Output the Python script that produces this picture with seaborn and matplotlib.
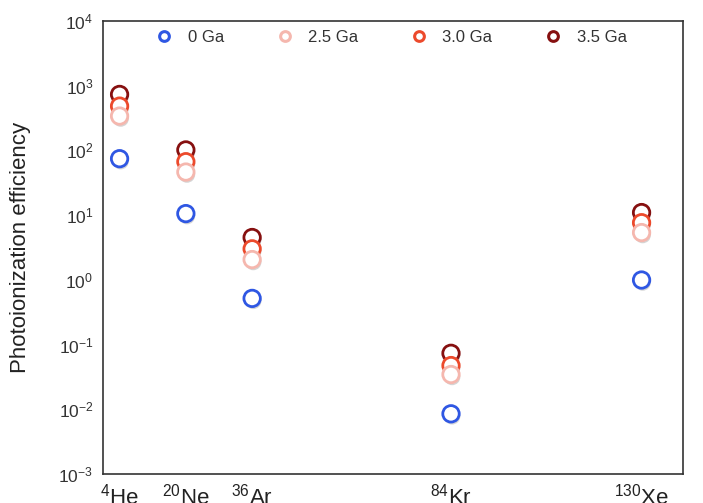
import numpy as np
import pandas as pd
import matplotlib
matplotlib.use("Agg")
import matplotlib.pyplot as plt
import matplotlib.patheffects as pe
from matplotlib.lines import Line2D
import seaborn as sns

# Isotopes (mass number sets the x position)
isotopes = ["He", "Ne", "Ar", "Kr", "Xe"]
mass_numbers = [4, 20, 36, 84, 130]

# Photoionization efficiency for each epoch
eff_0ga = [74, 10.5, 0.515, 0.0085, 0.99]
eff_2_5ga = [337, 46, 2.05, 0.0344, 5.35]
eff_3_0ga = [480, 66.5, 3.0, 0.0473, 7.6]
eff_3_5ga = [727, 101, 4.49, 0.0731, 10.9]

epochs = ["0 Ga", "2.5 Ga", "3.0 Ga", "3.5 Ga"]
colors = ["#2f57e3", "#f5b7ae", "#ec4a2c", "#861010"]

sns.set_theme(style="white")
plt.rcParams["font.family"] = ["Liberation Sans", "DejaVu Sans"]
plt.rcParams["mathtext.fontset"] = "custom"
plt.rcParams["mathtext.rm"] = "Liberation Sans"
plt.rcParams["mathtext.it"] = "Liberation Sans:italic"
plt.rcParams["axes.unicode_minus"] = False

# Long-form table; later epochs first so the lighter circles sit on top
rows = []
for label, vals in [("3.5 Ga", eff_3_5ga), ("3.0 Ga", eff_3_0ga),
                    ("2.5 Ga", eff_2_5ga), ("0 Ga", eff_0ga)]:
    for iso, m, v in zip(isotopes, mass_numbers, vals):
        rows.append({"isotope": iso, "mass": m, "efficiency": v, "epoch": label})
df = pd.DataFrame(rows)

palette = dict(zip(epochs, colors))

fig = plt.figure(figsize=(7.03, 5.03), dpi=100)
ax = fig.add_axes([103 / 703, 1 - 474 / 503, 580 / 703, (474 - 20.7) / 503])

sns.scatterplot(data=df, x="mass", y="efficiency", hue="epoch",
                hue_order=epochs, palette=palette, s=140, linewidth=0,
                legend=False, ax=ax)

coll = ax.collections[0]
face = coll.get_facecolors()
coll.set_edgecolors(face)
coll.set_facecolors("white")
coll.set_linewidths(2.0)
coll.set_path_effects([
    pe.SimplePatchShadow(offset=(0.8, -1.8), shadow_rgbFace="#888888", alpha=0.35),
    pe.Normal(),
])

ax.set_yscale("log")
ax.set_ylim(1e-3, 1e4)
ax.set_xlim(0, 140)
ax.set_yticks([10.0 ** k for k in range(-3, 5)])
ax.minorticks_off()
ax.set_xticks(mass_numbers)
ax.set_xticklabels([f"$^{{{m}}}$" + iso for m, iso in zip(mass_numbers, isotopes)],
                   fontsize=16)
ax.tick_params(axis="y", labelsize=12.5, length=0, pad=7, colors="#333333")
ax.tick_params(axis="x", length=0, pad=7, colors="#222222")

ax.set_xlabel("")
ax.set_ylabel("Photoionization efficiency", fontsize=16, color="#222222", labelpad=20)

for sp in ax.spines.values():
    sp.set_color("#333333")
    sp.set_linewidth(1.2)

handles = [Line2D([], [], linestyle="none", marker="o", markersize=7,
                  markerfacecolor="white", markeredgecolor=c, markeredgewidth=2.2)
           for c in colors]
ax.legend(handles, epochs, loc="upper center", bbox_to_anchor=(0.49, 1.012),
          ncol=4, frameon=False, fontsize=12, handletextpad=0.4,
          columnspacing=2.65, labelcolor="#333333")

fig.savefig("out.png", dpi=100)
